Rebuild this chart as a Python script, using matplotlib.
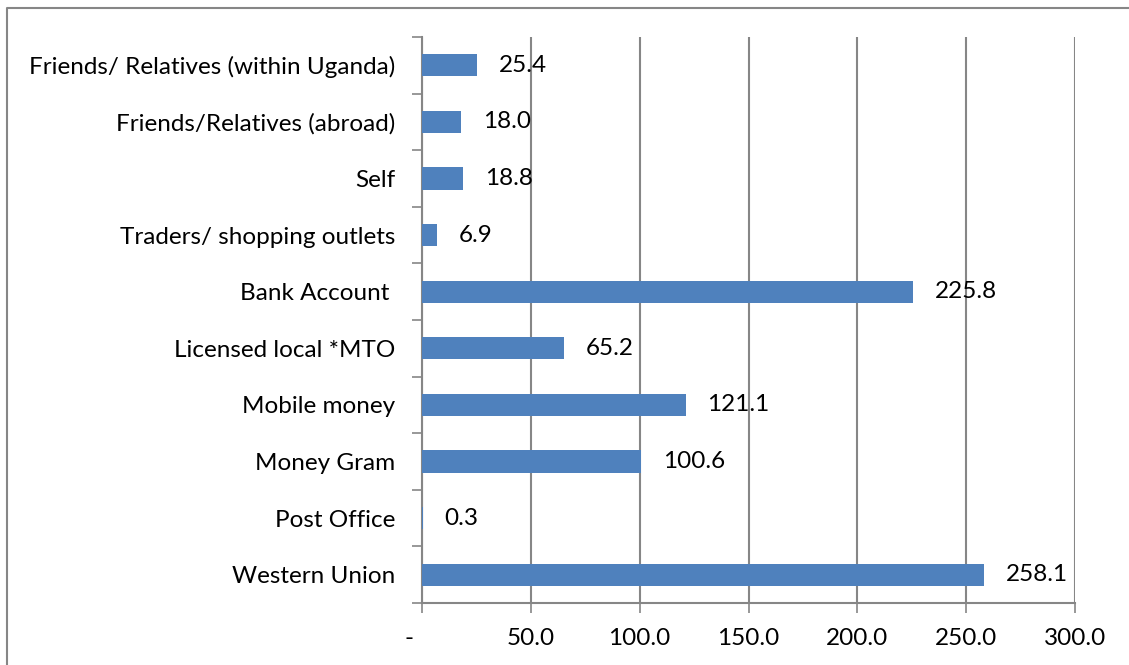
import numpy as np
import matplotlib.pyplot as plt
from matplotlib.lines import Line2D

# channels of inward remittances, top to bottom as in the chart
channels = ["Friends/ Relatives (within Uganda)", "Friends/Relatives (abroad)", "Self",
            "Traders/ shopping outlets", "Bank Account ", "Licensed local *MTO",
            "Mobile money", "Money Gram", "Post Office", "Western Union"]
values = [25.4, 18.0, 18.8, 6.9, 225.8, 65.2, 121.1, 100.6, 0.3, 258.1]
xticks = [0, 50, 100, 150, 200, 250, 300]
xlabels = ["-    ", "50.0", "100.0", "150.0", "200.0", "250.0", "300.0"]

plt.rcParams['font.family'] = ['Lato', 'DejaVu Sans']
grey = "#868686"
fs = 17.5

fig = plt.figure(figsize=(11.29, 6.65), dpi=100)
ax = fig.add_axes([422/1129, 1 - 603/665, 653/1129, 566/665])

# outer chart frame (only left and top edges are inside the picture)
fx, fy = 7/1129, 1 - 8/665
fig.add_artist(Line2D([fx, fx, 1.0], [0.0, fy, fy], transform=fig.transFigure,
                      color=grey, linewidth=1.5))

y = np.arange(len(channels))[::-1]
ax.barh(y, values, height=0.39, color="#4F81BD", zorder=3)
for yi, v in zip(y, values):
    ax.text(v + 10, yi, f"{v:.1f}", va="center", ha="left", fontsize=fs, zorder=4)

ax.set_xlim(0, 300)
ax.set_ylim(-0.5, len(channels) - 0.5)
ax.set_xticks(xticks)
ax.set_xticklabels(xlabels, fontsize=fs)
ax.set_yticks(y)
ax.set_yticklabels(channels, fontsize=fs)
ax.set_yticks(np.arange(-0.5, len(channels)), minor=True)
ax.tick_params(axis="y", which="major", length=0, pad=19)
ax.tick_params(axis="y", which="minor", length=7, width=1.2, color=grey, direction="out")
ax.tick_params(axis="x", length=7, width=1.2, color=grey, direction="out", pad=11)

ax.grid(axis="x", color=grey, linewidth=1.5, zorder=0)
for s in ["top", "right"]:
    ax.spines[s].set_visible(False)
for s in ["left", "bottom"]:
    ax.spines[s].set_color(grey)
    ax.spines[s].set_linewidth(1.5)

plt.savefig("out.png", dpi=100)
